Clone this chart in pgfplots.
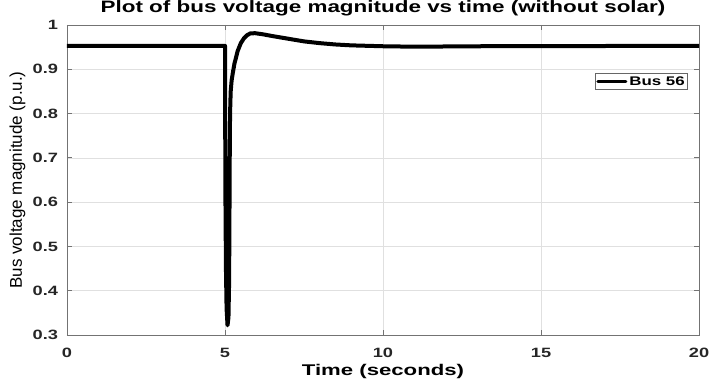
\documentclass[border=0pt]{standalone}
\usepackage{fontspec}
\setmainfont{Liberation Sans}
\newfontfamily\tickfont{Liberation Sans}[FakeStretch=1.35]
\newfontfamily\titfont{Liberation Sans}[FakeStretch=1.36]
\newfontfamily\labfont{Liberation Sans}[FakeStretch=1.43]
\usepackage{pgfplots}
\pgfplotsset{compat=1.18}
\pgfplotstableread{
t v
0 0.953
5.0 0.953
5.005 0.8
5.015 0.6
5.03 0.45
5.05 0.36
5.08 0.322
5.11 0.34
5.13 0.42
5.14 0.55
5.15 0.7
5.16 0.8
5.18 0.85
5.21 0.875
5.25 0.893
5.3 0.913
5.4 0.941
5.5 0.959
5.6 0.970
5.7 0.977
5.8 0.981
5.95 0.9815
6.2 0.979
6.5 0.975
7.0 0.969
7.5 0.963
8.0 0.959
8.5 0.956
9.0 0.954
10 0.952
11 0.951
13 0.952
20 0.953
}\voltdata
\begin{document}
\begin{tikzpicture}
\begin{axis}[
  scale only axis, width=632pt, height=310pt,
  at={(0,0)}, anchor=south west,
  xmin=0, xmax=20, ymin=0.3, ymax=1,
  xtick={0,5,10,15,20},
  ytick={0.3,0.4,0.5,0.6,0.7,0.8,0.9,1},
  yticklabels={0.3,0.4,0.5,0.6,0.7,0.8,0.9,1},
  xticklabels={0,5,10,15,20},
  grid=major,
  major grid style={black!12, line width=0.6pt},
  axis line style={black!55, line width=0.8pt},
  tick style={black!55, line width=0.8pt},
  tick align=inside, major tick length=5pt,
  /pgf/number format/assume math mode=true,
  ticklabel style={font=\tickfont\fontsize{13.5}{13.5}\selectfont\bfseries, text=black!85},
  xticklabel style={anchor=base, yshift=-22pt},
  yticklabel style={anchor=east, xshift=-5.5pt},
  title={Plot of bus voltage magnitude vs time (without solar)},
  title style={font=\titfont\fontsize{16.5}{16.5}\selectfont\bfseries, at={(0.5,1)}, anchor=base, yshift=6pt},
  xlabel={Time (seconds)},
  xlabel style={font=\labfont\fontsize{15.5}{15.5}\selectfont\bfseries, at={(0.5,0)}, anchor=base, yshift=-40pt},
  ylabel={Bus voltage magnitude (p.u.)},
  ylabel style={font=\fontsize{17}{17}\selectfont, at={(0,0.5)}, anchor=base, yshift=45pt},
  legend style={at={(1,1)}, anchor=north east, xshift=-11pt, yshift=-48pt,
    font=\tickfont\fontsize{12.5}{12.5}\selectfont\bfseries, draw=black!60, line width=0.6pt,
    inner sep=1pt, row sep=0pt},
  legend image code/.code={\draw[line width=3pt] (0pt,0pt) -- (28pt,0pt);},
]
\addplot[black, line width=4pt, line join=round, line cap=round] table[x=t,y=v] {\voltdata};
\addlegendentry{Bus 56}
\end{axis}
\pgfresetboundingbox
\path (-67pt,-48pt) rectangle (642pt,335pt);
\end{tikzpicture}
\end{document}
